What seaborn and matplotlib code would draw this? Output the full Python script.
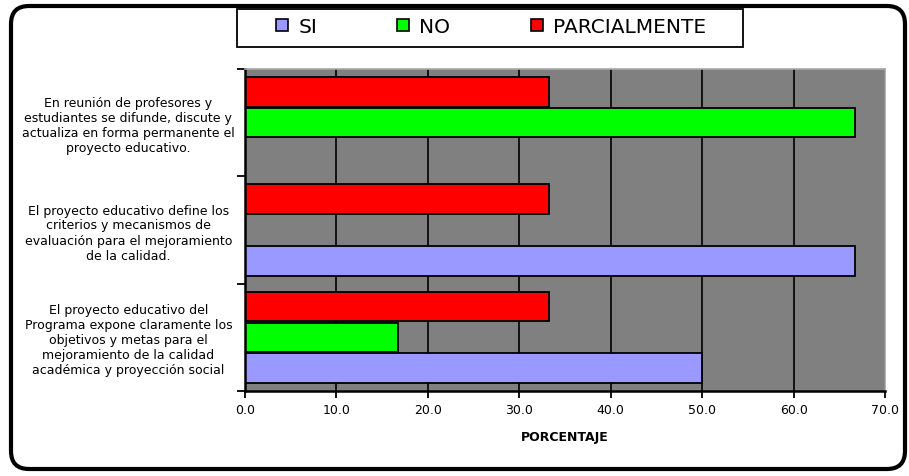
import numpy as np
import pandas as pd
import matplotlib.pyplot as plt
import seaborn as sns
from matplotlib.patches import Patch, Rectangle, FancyBboxPatch
from matplotlib.ticker import FormatStrFormatter

# --- data ---
categories = [
    "En reunión de profesores y\nestudiantes se difunde, discute y\nactualiza en forma permanente el\nproyecto educativo.",
    "El proyecto educativo define los\ncriterios y mecanismos de\nevaluación para el mejoramiento\nde la calidad.",
    "El proyecto educativo del\nPrograma expone claramente los\nobjetivos y metas para el\nmejoramiento de la calidad\nacadémica y proyección social",
]
si_values = [0.0, 66.7, 50.0]
no_values = [66.7, 0.0, 16.7]
parcial_values = [33.3, 33.3, 33.3]
series_names = ["SI", "NO", "PARCIALMENTE"]
x_ticks = [0, 10, 20, 30, 40, 50, 60, 70]

palette = {"SI": "#9999FF", "NO": "#00FF00", "PARCIALMENTE": "#FF0000"}

df = pd.DataFrame({
    "Pregunta": categories * 3,
    "Respuesta": ["SI"] * 3 + ["NO"] * 3 + ["PARCIALMENTE"] * 3,
    "Porcentaje": si_values + no_values + parcial_values,
})

sns.set_style("white")
plt.rcParams["font.family"] = ["DejaVu Sans"]
plt.rcParams["text.color"] = "black"
plt.rcParams["xtick.color"] = "black"
plt.rcParams["ytick.color"] = "black"
plt.rcParams["axes.labelcolor"] = "black"

fig = plt.figure(figsize=(9.09, 4.77), dpi=100)
ax = fig.add_axes([245 / 909, 1 - 392 / 477, 640 / 909, 322 / 477])

sns.barplot(data=df, y="Pregunta", x="Porcentaje", hue="Respuesta",
            order=categories, hue_order=["PARCIALMENTE", "NO", "SI"],
            palette=palette, saturation=1, orient="h", width=0.86, gap=0.04,
            edgecolor="black", linewidth=1.3, errorbar=None,
            legend=False, ax=ax)

ax.set_facecolor("#808080")
ax.set_xlim(0, 70)
ax.set_ylim(2.5, -0.5)
ax.set_xticks(x_ticks)
ax.xaxis.set_major_formatter(FormatStrFormatter("%.1f"))
ax.grid(axis="x", color="black", linewidth=1.2)
ax.grid(axis="y", visible=False)
ax.set_axisbelow(True)

for side in ["left", "bottom"]:
    ax.spines[side].set_color("black")
    ax.spines[side].set_linewidth(1.8)
for side in ["top", "right"]:
    ax.spines[side].set_color("#a8a8a8")
    ax.spines[side].set_linewidth(1.2)

# category boundaries carry the tick marks, labels sit centred to the left
ax.set_yticks([-0.5, 0.5, 1.5, 2.5], minor=True)
ax.tick_params(axis="y", which="major", length=0, pad=84, labelsize=9)
ax.tick_params(axis="y", which="minor", length=6, width=1.3, color="black",
               direction="out", left=True)
for lab in ax.get_yticklabels():
    lab.set_horizontalalignment("center")
    lab.set_linespacing(1.2)
ax.tick_params(axis="x", length=5, width=1.3, color="black", direction="out",
               bottom=True, labelsize=9, pad=4)

ax.set_ylabel("")
ax.set_xlabel("PORCENTAJE", fontsize=9, fontweight="bold", labelpad=10)

# legend box at the top
fig.add_artist(Rectangle((237 / 909, 1 - 48 / 477), 506 / 909, 38 / 477,
                         transform=fig.transFigure, facecolor="white",
                         edgecolor="black", linewidth=1.3))
handles = [Patch(facecolor=palette[k], edgecolor="black", linewidth=1.2)
           for k in series_names]
fig.legend(handles, series_names, loc="upper left", ncol=3, mode="expand",
           bbox_to_anchor=(268 / 909, 1 - 48 / 477, 446 / 909, 38 / 477),
           frameon=False, fontsize=14.5, handlelength=0.6, handleheight=0.6,
           handletextpad=0.5, borderaxespad=0, borderpad=0.4)

# rounded outer frame
fig.add_artist(FancyBboxPatch((0.11, 0.07), 8.94, 4.63,
                              boxstyle="round,pad=0,rounding_size=0.18",
                              transform=fig.dpi_scale_trans, facecolor="none",
                              edgecolor="black", linewidth=3))

plt.savefig("out.png", dpi=100)
plt.close()
